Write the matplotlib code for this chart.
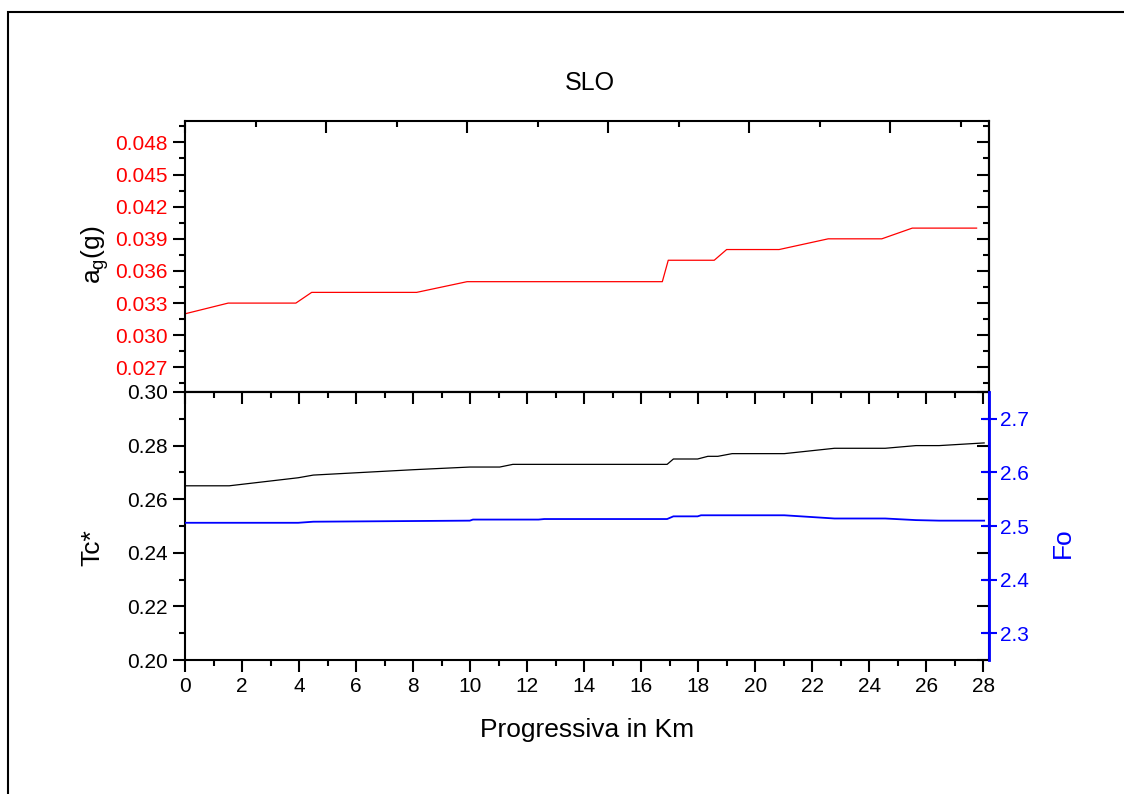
#===============================================================================
# SLO - a_g, Tc* and Fo along the route
#===============================================================================
import matplotlib
matplotlib.use('Agg')
import matplotlib.pyplot as plt
from matplotlib.ticker import MultipleLocator, FormatStrFormatter
from matplotlib.patches import Rectangle

plt.rcParams['font.family'] = ['Liberation Sans', 'DejaVu Sans']
plt.rcParams['mathtext.default'] = 'regular'

#===============================================================================
# Data
#===============================================================================
km_ag = [0, 1.53, 3.93, 4.49, 8.21, 10.0, 16.92, 17.13, 18.76, 19.20, 21.06, 22.8, 24.7, 25.78, 28.06]
ag = [0.032, 0.033, 0.033, 0.034, 0.034, 0.035, 0.035, 0.037, 0.037, 0.038, 0.038, 0.039, 0.039, 0.040, 0.040]

km_tc = [0, 1.55, 3.97, 4.5, 8.0, 9.99, 11.04, 11.5, 16.91, 17.13, 17.98, 18.34, 18.69, 19.19,
         21.02, 22.78, 24.56, 25.64, 26.45, 28.03]
tc = [0.265, 0.265, 0.268, 0.269, 0.271, 0.272, 0.272, 0.273, 0.273, 0.275, 0.275, 0.276, 0.276, 0.277,
      0.277, 0.279, 0.279, 0.280, 0.280, 0.281]

km_fo = [0, 3.97, 4.5, 9.99, 10.1, 12.4, 12.6, 16.91, 17.13, 17.98, 18.1, 21.02, 22.78, 24.56,
         25.64, 26.45, 28.03]
fo = [2.506, 2.506, 2.508, 2.510, 2.512, 2.512, 2.513, 2.513, 2.518, 2.518, 2.520, 2.520, 2.514, 2.514,
      2.511, 2.510, 2.510]

W, H = 1124., 794.
tick_fs = 15
lab_fs = 19
lw_sp = 1.5
maj_len, min_len = 8.5, 4.3

fig = plt.figure(figsize=(W / 100, H / 100), dpi=100)
ax_ag = fig.add_axes([185 / W, 1 - 392 / H, 804 / W, 271 / H])
ax_tc = fig.add_axes([185 / W, 1 - 660 / H, 804 / W, 268 / H])
ax_fo = ax_tc.twinx()

for a in (ax_ag, ax_tc, ax_fo):
    for s in a.spines.values():
        s.set_linewidth(lw_sp)

#------------------------------------------------------------------------------
# top panel: a_g
#------------------------------------------------------------------------------
ax_ag.plot(km_ag, ag, color='red', lw=0.9)
ax_ag.set_xlim(0, 28.5)
ax_ag.set_ylim(0.0247, 0.050)
ax_ag.xaxis.set_major_locator(MultipleLocator(5))
ax_ag.xaxis.set_minor_locator(MultipleLocator(2.5))
ax_ag.tick_params(axis='x', which='both', bottom=False, labelbottom=False, top=True,
                  direction='in', width=lw_sp)
ax_ag.tick_params(axis='x', which='major', length=maj_len)
ax_ag.tick_params(axis='x', which='minor', length=min_len)
ax_ag.yaxis.set_major_locator(MultipleLocator(0.003))
ax_ag.yaxis.set_minor_locator(MultipleLocator(0.0015))
ax_ag.yaxis.set_major_formatter(FormatStrFormatter('%.3f'))
ax_ag.tick_params(axis='y', which='both', direction='out', width=lw_sp,
                  labelcolor='red', labelsize=tick_fs, pad=4)
ax_ag.tick_params(axis='y', which='major', length=maj_len)
ax_ag.tick_params(axis='y', which='minor', length=min_len)

ag_r = ax_ag.secondary_yaxis('right')
ag_r.yaxis.set_major_locator(MultipleLocator(0.003))
ag_r.yaxis.set_minor_locator(MultipleLocator(0.0015))
ag_r.tick_params(axis='y', which='both', direction='in', width=lw_sp, labelright=False)
ag_r.tick_params(axis='y', which='major', length=maj_len)
ag_r.tick_params(axis='y', which='minor', length=min_len)
ag_r.spines['right'].set_linewidth(lw_sp)

#------------------------------------------------------------------------------
# bottom panel: Tc* and Fo
#------------------------------------------------------------------------------
ax_tc.plot(km_tc, tc, color='black', lw=0.9)
ax_tc.set_xlim(0, 28.2)
ax_tc.set_ylim(0.20, 0.30)
ax_tc.xaxis.set_major_locator(MultipleLocator(2))
ax_tc.xaxis.set_minor_locator(MultipleLocator(1))
ax_tc.tick_params(axis='x', which='both', direction='out', width=lw_sp, labelsize=tick_fs, pad=4)
ax_tc.tick_params(axis='x', which='major', length=maj_len)
ax_tc.tick_params(axis='x', which='minor', length=min_len)
ax_tc.yaxis.set_major_locator(MultipleLocator(0.02))
ax_tc.yaxis.set_minor_locator(MultipleLocator(0.01))
ax_tc.yaxis.set_major_formatter(FormatStrFormatter('%.2f'))
ax_tc.tick_params(axis='y', which='both', direction='out', width=lw_sp, labelsize=tick_fs, pad=4)
ax_tc.tick_params(axis='y', which='major', length=maj_len)
ax_tc.tick_params(axis='y', which='minor', length=min_len)

tc_top = ax_tc.secondary_xaxis('top')
tc_top.xaxis.set_major_locator(MultipleLocator(2))
tc_top.xaxis.set_minor_locator(MultipleLocator(1))
tc_top.tick_params(axis='x', which='both', direction='in', width=lw_sp, labeltop=False)
tc_top.tick_params(axis='x', which='major', length=maj_len)
tc_top.tick_params(axis='x', which='minor', length=min_len)
tc_top.spines['top'].set_linewidth(lw_sp)

tc_r = ax_tc.secondary_yaxis('right')
tc_r.yaxis.set_major_locator(MultipleLocator(0.02))
tc_r.yaxis.set_minor_locator(MultipleLocator(0.01))
tc_r.tick_params(axis='y', which='both', direction='in', width=lw_sp, labelright=False)
tc_r.tick_params(axis='y', which='major', length=maj_len)
tc_r.tick_params(axis='y', which='minor', length=min_len)

ax_fo.plot(km_fo, fo, color='blue', lw=1.3)
ax_fo.set_ylim(2.25, 2.75)
ax_fo.yaxis.set_major_locator(MultipleLocator(0.1))
ax_fo.yaxis.set_major_formatter(FormatStrFormatter('%.1f'))
ax_fo.tick_params(axis='y', which='major', direction='inout', length=12, width=lw_sp,
                  colors='blue', labelsize=tick_fs, pad=2)
for side in ('left', 'top', 'bottom'):
    ax_fo.spines[side].set_visible(False)
ax_fo.spines['right'].set_color('blue')
ax_fo.spines['right'].set_linewidth(2)

#------------------------------------------------------------------------------
# texts and frame
#------------------------------------------------------------------------------
fig.text(590 / W, 1 - 83 / H, 'SLO', ha='center', va='center', fontsize=18)
fig.text(587 / W, 1 - 730 / H, 'Progressiva in Km', ha='center', va='center', fontsize=lab_fs)
fig.text(92 / W, 1 - 548 / H, 'Tc*', rotation=90, ha='center', va='center', fontsize=lab_fs)
fig.text(1063 / W, 1 - 543 / H, 'Fo', rotation=90, ha='center', va='center',
         fontsize=lab_fs, color='blue')
fig.text(95 / W, 1 - 255 / H, r'a$_{g}$(g)', rotation=90, ha='center', va='center', fontsize=lab_fs)

fig.add_artist(Rectangle((8 / W, -0.1), 1.0, 1 - 12 / H + 0.1, transform=fig.transFigure,
                         fill=False, lw=1.5, edgecolor='black'))

plt.savefig('out.png', dpi=100)
